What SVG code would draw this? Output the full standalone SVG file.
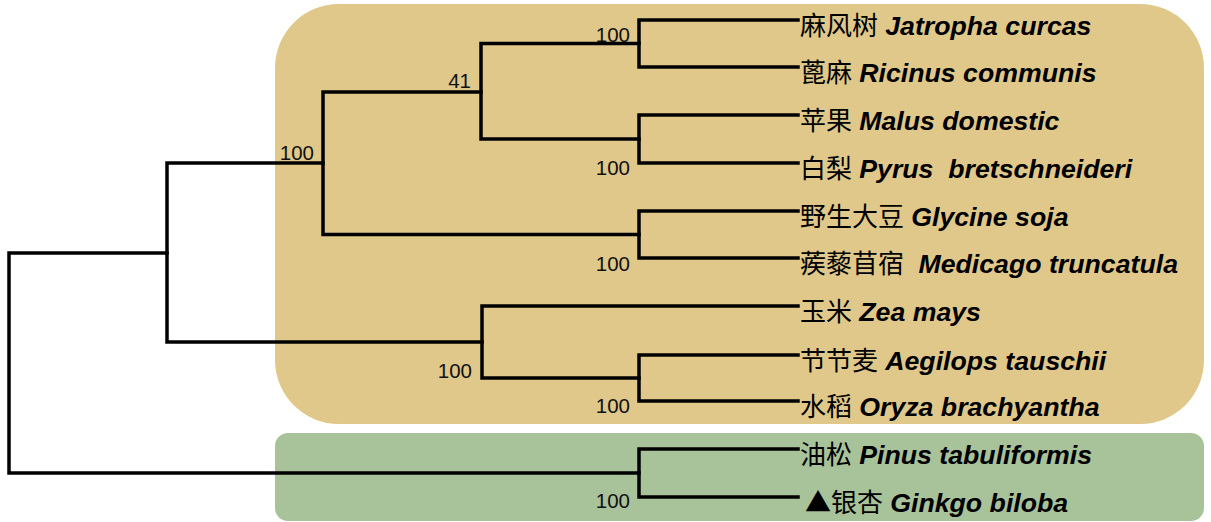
<svg xmlns="http://www.w3.org/2000/svg" width="1211" height="522" viewBox="0 0 1211 522">
<style>
.bg{fill:#ffffff}
.clade1{fill:#DFC88A}
.clade2{fill:#A8C29A}
.br{fill:none;stroke:#000;stroke-width:3.5;stroke-linejoin:miter;stroke-linecap:square}
.lbl{font-family:"Liberation Sans","Noto Sans CJK SC",sans-serif;font-size:26px;fill:#000;white-space:pre}
.cn{font-family:"Noto Sans CJK SC","Liberation Sans",sans-serif;font-weight:normal;font-style:normal}
.sp{font-family:"Liberation Sans","Noto Sans CJK SC",sans-serif;font-weight:bold;font-style:italic;font-size:26.7px}
.bs{font-family:"Liberation Sans",sans-serif;font-size:20.5px;fill:#111;text-anchor:end}
</style>
<rect class="bg" x="0" y="0" width="1211" height="522"/>
<g id="clades">
<rect id="angiosperms" class="clade1" x="275" y="4" width="929" height="420" rx="64" ry="64"/>
<rect id="gymnosperms" class="clade2" x="275" y="433" width="929" height="88" rx="13" ry="13"/>
</g>
<g id="connectors">
<path class="br" d="M167,253 H9 V473 H639"/>
<path class="br" d="M323,163 H167 V342 H482"/>
<path class="br" d="M481,92 H323 V234.5 H639"/>
<path class="br" d="M639,43.5 H481 V139 H639"/>
<path class="br" d="M798,20 H639 V67 H798"/>
<path class="br" d="M798,115 H639 V163 H798"/>
<path class="br" d="M798,211 H639 V258 H798"/>
<path class="br" d="M798,306 H482 V378 H639"/>
<path class="br" d="M798,355 H639 V401 H798"/>
<path class="br" d="M798,449 H639 V497 H798"/>
</g>
<g id="support">
<text id="bs-jr" class="bs" x="630" y="42">100</text>
<text id="bs-41" class="bs" x="471" y="88">41</text>
<text id="bs-eud" class="bs" x="314" y="160">100</text>
<text id="bs-mp" class="bs" x="630" y="175">100</text>
<text id="bs-gm" class="bs" x="630" y="271">100</text>
<text id="bs-mono" class="bs" x="472" y="378">100</text>
<text id="bs-ao" class="bs" x="630" y="413">100</text>
<text id="bs-gym" class="bs" x="630" y="508">100</text>
</g>
<g id="leaf-jatropha"><text class="lbl" x="800" y="35"><tspan class="cn">麻风树</tspan> <tspan class="sp">Jatropha curcas</tspan></text></g>
<g id="leaf-ricinus"><text class="lbl" x="800" y="82"><tspan class="cn">蓖麻</tspan> <tspan class="sp">Ricinus communis</tspan></text></g>
<g id="leaf-malus"><text class="lbl" x="800" y="130"><tspan class="cn">苹果</tspan> <tspan class="sp">Malus domestic</tspan></text></g>
<g id="leaf-pyrus"><text class="lbl" x="800" y="178"><tspan class="cn">白梨</tspan> <tspan class="sp">Pyrus  bretschneideri</tspan></text></g>
<g id="leaf-glycine"><text class="lbl" x="800" y="226"><tspan class="cn">野生大豆</tspan> <tspan class="sp">Glycine soja</tspan></text></g>
<g id="leaf-medicago"><text class="lbl" x="800" y="273"><tspan class="cn">蒺藜苜宿</tspan>  <tspan class="sp">Medicago truncatula</tspan></text></g>
<g id="leaf-zea"><text class="lbl" x="800" y="321"><tspan class="cn">玉米</tspan> <tspan class="sp">Zea mays</tspan></text></g>
<g id="leaf-aegilops"><text class="lbl" x="800" y="370"><tspan class="cn">节节麦</tspan> <tspan class="sp">Aegilops tauschii</tspan></text></g>
<g id="leaf-oryza"><text class="lbl" x="800" y="416"><tspan class="cn">水稻</tspan> <tspan class="sp">Oryza brachyantha</tspan></text></g>
<g id="leaf-pinus"><text class="lbl" x="800" y="464"><tspan class="cn">油松</tspan> <tspan class="sp">Pinus tabuliformis</tspan></text></g>
<g id="leaf-ginkgo"><text class="lbl" x="805" y="512"><tspan class="cn">▲银杏</tspan> <tspan class="sp">Ginkgo biloba</tspan></text></g>
</svg>
